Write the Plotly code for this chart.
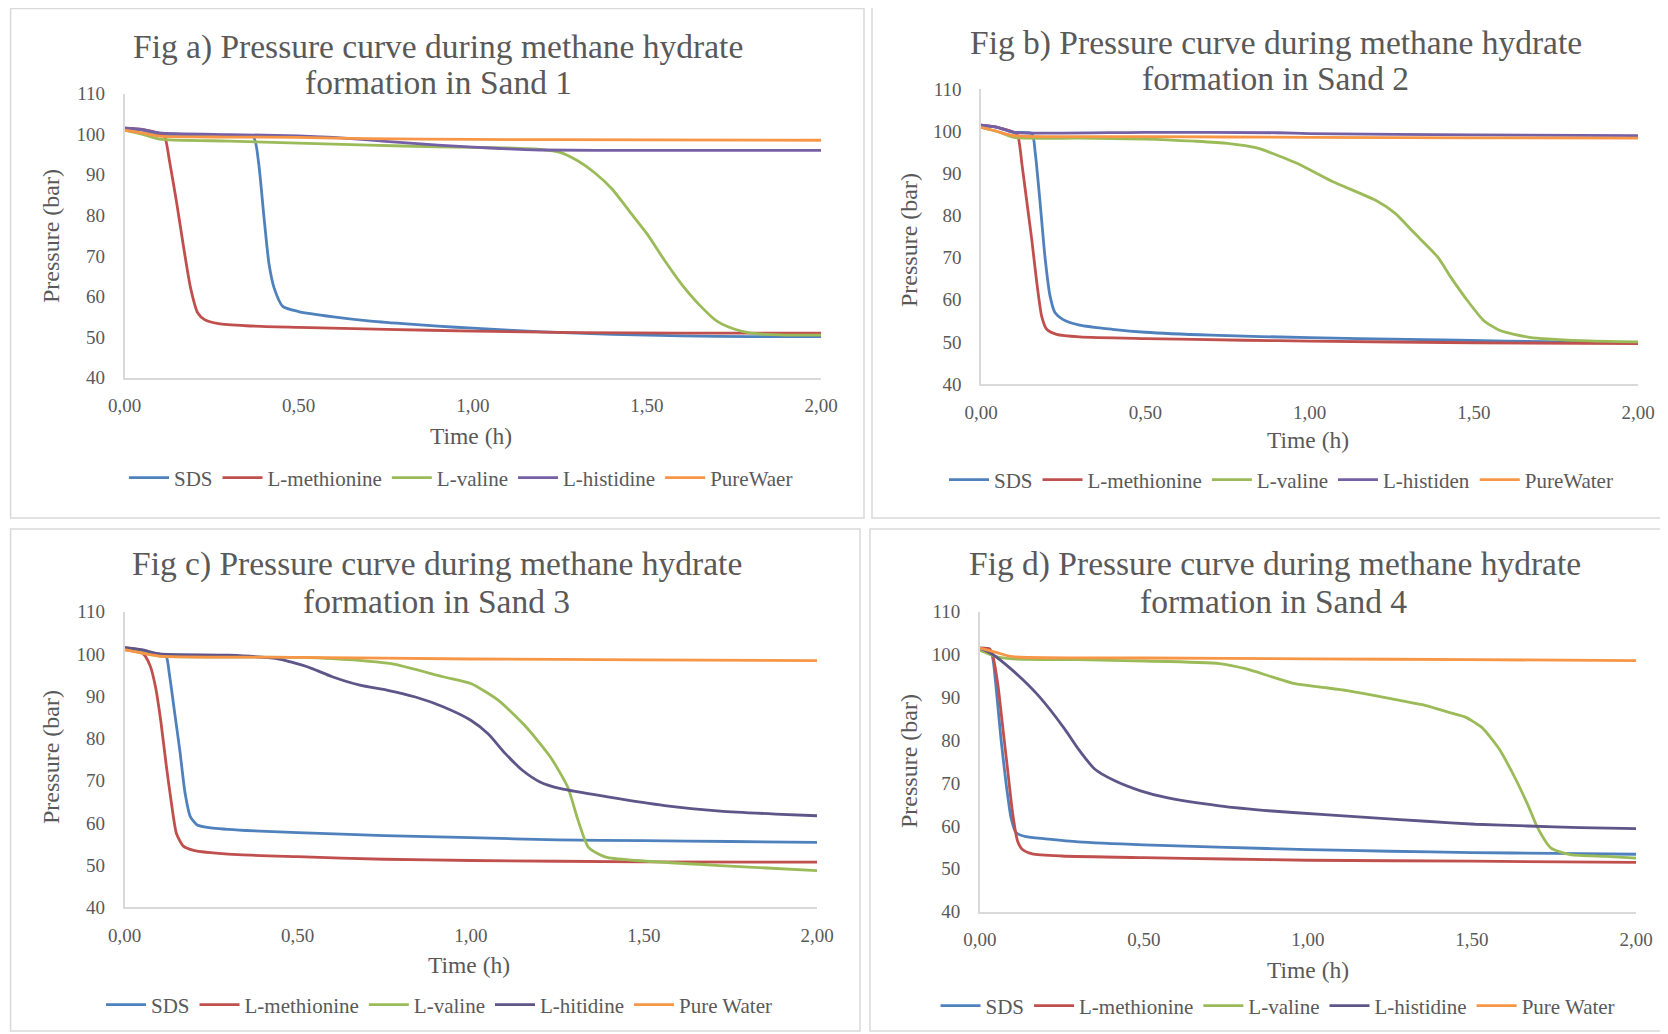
import plotly.graph_objects as go

# page has an 8 px body margin: the figure is drawn 8 px smaller and every
# reference pixel position is shifted by that margin
OFF = 8
W, H = 1668 - OFF, 1034 - OFF

# ---------------- data (time in h, pressure in bar) ----------------
# Panel a
a_sds_t = [0, 0.05, 0.10, 0.20, 0.30, 0.37, 0.385, 0.40, 0.415, 0.43, 0.455, 0.50, 0.60, 0.70, 0.80, 0.90, 1.00, 1.20, 1.40, 1.60, 1.80, 2.00]
a_sds_p = [101.5, 101.0, 100.0, 99.8, 99.6, 99.3, 93.0, 80.0, 68.0, 62.0, 57.5, 56.3, 55.0, 54.0, 53.3, 52.7, 52.2, 51.3, 50.7, 50.3, 50.1, 50.1]
a_met_t = [0, 0.05, 0.10, 0.115, 0.13, 0.15, 0.17, 0.19, 0.21, 0.23, 0.27, 0.35, 0.50, 0.75, 1.00, 1.30, 1.60, 2.00]
a_met_p = [101.5, 101.2, 100.2, 99.5, 93.0, 83.0, 72.0, 62.0, 56.0, 54.3, 53.3, 52.8, 52.4, 51.9, 51.5, 51.1, 51.0, 51.0]
a_val_t = [0, 0.05, 0.10, 0.30, 0.50, 0.70, 0.90, 1.10, 1.20, 1.25, 1.30, 1.35, 1.40, 1.45, 1.50, 1.55, 1.60, 1.65, 1.70, 1.75, 1.80, 1.90, 2.00]
a_val_p = [101.0, 100.0, 98.8, 98.3, 97.8, 97.3, 96.9, 96.6, 96.2, 95.5, 93.5, 90.5, 86.5, 81.0, 75.5, 69.0, 63.0, 58.0, 54.0, 52.0, 51.0, 50.5, 50.5]
a_his_t = [0, 0.05, 0.10, 0.30, 0.50, 0.60, 0.70, 0.80, 0.90, 1.00, 1.10, 1.20, 1.50, 2.00]
a_his_p = [101.5, 101.2, 100.3, 99.9, 99.6, 99.2, 98.6, 97.9, 97.3, 96.8, 96.4, 96.1, 96.0, 96.0]
a_wat_t = [0, 0.05, 0.10, 0.30, 0.50, 0.70, 1.00, 1.50, 2.00]
a_wat_p = [101.0, 100.3, 99.5, 99.3, 99.2, 98.9, 98.7, 98.6, 98.5]

# Panel b
b_sds_t = [0, 0.05, 0.10, 0.155, 0.165, 0.18, 0.195, 0.21, 0.225, 0.25, 0.30, 0.40, 0.50, 0.70, 1.00, 1.30, 1.60, 2.00]
b_sds_p = [101.5, 101.0, 99.8, 99.5, 95.0, 83.0, 70.0, 61.0, 57.0, 55.3, 54.0, 53.0, 52.3, 51.6, 51.0, 50.6, 50.2, 49.8]
b_met_t = [0, 0.05, 0.10, 0.112, 0.125, 0.14, 0.155, 0.17, 0.185, 0.20, 0.23, 0.30, 0.50, 0.80, 1.00, 1.50, 2.00]
b_met_p = [101.5, 101.0, 99.8, 99.0, 92.0, 83.0, 74.0, 64.0, 56.0, 53.0, 51.8, 51.2, 50.8, 50.4, 50.2, 49.8, 49.6]
b_val_t = [0, 0.05, 0.10, 0.30, 0.50, 0.65, 0.75, 0.84, 0.96, 1.07, 1.20, 1.26, 1.32, 1.39, 1.43, 1.48, 1.53, 1.58, 1.67, 1.83, 2.00]
b_val_p = [101.0, 100.0, 98.6, 98.4, 98.2, 97.7, 97.2, 96.1, 92.5, 88.1, 83.7, 80.6, 75.8, 70.2, 65.4, 59.9, 55.1, 52.7, 51.1, 50.3, 50.0]
b_his_t = [0, 0.05, 0.10, 0.50, 0.90, 1.00, 1.50, 2.00]
b_his_p = [101.5, 101.0, 99.8, 99.8, 99.7, 99.5, 99.2, 99.0]
b_wat_t = [0, 0.05, 0.10, 0.50, 1.00, 1.50, 2.00]
b_wat_p = [101.0, 100.0, 99.0, 98.8, 98.6, 98.5, 98.4]

# Panel c
c_sds_t = [0, 0.05, 0.10, 0.12, 0.13, 0.145, 0.16, 0.175, 0.19, 0.21, 0.25, 0.35, 0.50, 0.75, 1.00, 1.25, 1.50, 1.75, 2.00]
c_sds_p = [101.0, 100.5, 100.0, 99.5, 95.0, 86.0, 77.0, 67.0, 61.5, 59.5, 58.8, 58.2, 57.7, 57.0, 56.5, 56.0, 55.8, 55.6, 55.4]
c_met_t = [0, 0.04, 0.06, 0.075, 0.09, 0.105, 0.12, 0.135, 0.15, 0.17, 0.20, 0.30, 0.50, 0.75, 1.00, 1.50, 2.00]
c_met_p = [101.5, 101.0, 99.5, 97.0, 92.0, 84.0, 74.0, 65.0, 57.5, 54.5, 53.5, 52.6, 52.0, 51.4, 51.1, 50.8, 50.7]
c_val_t = [0, 0.05, 0.10, 0.50, 0.60, 0.77, 0.92, 1.00, 1.08, 1.16, 1.23, 1.28, 1.31, 1.34, 1.39, 1.48, 1.72, 2.00]
c_val_p = [101.0, 100.3, 99.5, 99.2, 98.9, 97.7, 94.6, 93.0, 89.0, 82.7, 75.6, 68.5, 60.6, 54.2, 51.9, 51.1, 49.9, 48.7]
c_his_t = [0, 0.05, 0.10, 0.30, 0.44, 0.48, 0.54, 0.60, 0.68, 0.76, 0.84, 0.92, 1.00, 1.05, 1.10, 1.15, 1.20, 1.26, 1.40, 1.56, 1.72, 1.88, 2.00]
c_his_p = [101.5, 101.0, 100.0, 99.7, 98.9, 98.1, 96.6, 94.6, 92.6, 91.4, 89.8, 87.5, 84.3, 81.1, 76.4, 72.4, 69.7, 68.1, 66.1, 64.1, 62.8, 62.1, 61.7]
c_wat_t = [0, 0.05, 0.10, 0.50, 1.00, 1.50, 2.00]
c_wat_p = [101.0, 100.2, 99.5, 99.2, 98.8, 98.6, 98.4]

# Panel d
d_sds_t = [0, 0.03, 0.04, 0.05, 0.065, 0.08, 0.095, 0.11, 0.14, 0.20, 0.30, 0.50, 0.75, 1.00, 1.25, 1.50, 1.75, 2.00]
d_sds_p = [101.5, 101.3, 99.0, 92.0, 80.0, 70.0, 62.0, 58.5, 57.5, 57.0, 56.3, 55.6, 55.0, 54.5, 54.1, 53.8, 53.6, 53.4]
d_met_t = [0, 0.03, 0.04, 0.055, 0.07, 0.085, 0.10, 0.115, 0.13, 0.16, 0.25, 0.50, 0.75, 1.00, 1.50, 2.00]
d_met_p = [101.5, 101.3, 99.5, 93.0, 83.0, 73.0, 63.0, 56.5, 54.5, 53.5, 53.0, 52.6, 52.3, 52.0, 51.8, 51.5]
d_val_t = [0, 0.05, 0.10, 0.30, 0.50, 0.73, 0.81, 0.89, 0.96, 1.04, 1.12, 1.20, 1.28, 1.36, 1.43, 1.48, 1.53, 1.58, 1.62, 1.67, 1.70, 1.74, 1.80, 1.91, 2.00]
d_val_p = [101.0, 99.5, 99.0, 98.8, 98.5, 97.9, 96.7, 94.8, 93.2, 92.4, 91.6, 90.5, 89.3, 88.1, 86.5, 85.4, 83.0, 78.3, 72.9, 65.0, 59.6, 54.9, 53.3, 52.9, 52.5]
d_his_t = [0, 0.036, 0.10, 0.18, 0.26, 0.30, 0.35, 0.41, 0.49, 0.57, 0.73, 0.89, 1.04, 1.20, 1.36, 1.51, 1.67, 1.83, 2.00]
d_his_p = [101.5, 100.2, 96.3, 90.3, 82.5, 78.0, 73.3, 70.6, 68.2, 66.6, 64.7, 63.5, 62.7, 61.9, 61.1, 60.4, 60.0, 59.6, 59.4]
d_wat_t = [0, 0.05, 0.10, 0.50, 1.00, 1.50, 2.00]
d_wat_p = [101.5, 100.5, 99.5, 99.2, 99.0, 98.8, 98.6]

# legend labels (as printed in each panel)
a_names = ["SDS", "L-methionine", "L-valine", "L-histidine", "PureWaer"]
b_names = ["SDS", "L-methionine", "L-valine", "L-histiden", "PureWater"]
c_names = ["SDS", "L-methionine", "L-valine", "L-hitidine", "Pure Water"]
d_names = ["SDS", "L-methionine", "L-valine", "L-histidine", "Pure Water"]

title_line1 = [
    "Fig a) Pressure curve during methane hydrate",
    "Fig b) Pressure curve during methane hydrate",
    "Fig c) Pressure curve during methane hydrate",
    "Fig d) Pressure curve during methane hydrate",
]
title_line2 = [
    "formation in Sand 1",
    "formation in Sand 2",
    "formation in Sand 3",
    "formation in Sand 4",
]
x_ticks = [0, 0.5, 1.0, 1.5, 2.0]
y_ticks = [40, 50, 60, 70, 80, 90, 100, 110]

# ---------------- styling / layout ----------------
FONT = "Liberation Serif"
TXT = "#595959"
his_col_ab = "#7560A6"
his_col_cd = "#5E5689"


def fx(px):
    return (px - OFF) / W


def fy(py):
    return 1 - (py - OFF) / H


panels = [
    dict(series=[(a_sds_t, a_sds_p), (a_met_t, a_met_p), (a_val_t, a_val_p), (a_his_t, a_his_p), (a_wat_t, a_wat_p)],
         names=a_names, his=his_col_ab,
         px=(124.5, 821), py=(93.6, 377.7), frame=(10.6, 8.5, 864, 518),
         t1=(438, 46.8), t2=(438, 82), xt=(471, 436), yt=(51, 236), leg=(461, 478)),
    dict(series=[(b_sds_t, b_sds_p), (b_met_t, b_met_p), (b_val_t, b_val_p), (b_his_t, b_his_p), (b_wat_t, b_wat_p)],
         names=b_names, his=his_col_ab,
         px=(981, 1638), py=(89.4, 384), frame=(872, 5, 1665, 518),
         t1=(1276, 42.6), t2=(1275.5, 78.7), xt=(1308, 440), yt=(909, 240), leg=(1281, 480)),
    dict(series=[(c_sds_t, c_sds_p), (c_met_t, c_met_p), (c_val_t, c_val_p), (c_his_t, c_his_p), (c_wat_t, c_wat_p)],
         names=c_names, his=his_col_cd,
         px=(124.5, 817), py=(611.7, 907.4), frame=(10.6, 529, 860, 1031),
         t1=(437, 564), t2=(437, 601), xt=(469, 965), yt=(51, 757), leg=(439, 1005)),
    dict(series=[(d_sds_t, d_sds_p), (d_met_t, d_met_p), (d_val_t, d_val_p), (d_his_t, d_his_p), (d_wat_t, d_wat_p)],
         names=d_names, his=his_col_cd,
         px=(979.8, 1636), py=(611.7, 911.7), frame=(870, 529, 1665, 1031),
         t1=(1275, 564), t2=(1273, 601), xt=(1308, 970), yt=(909, 761), leg=(1278, 1006)),
]

base_colors = ["#4F81BD", "#C0504D", "#9BBB59", None, "#F79646"]

fig = go.Figure()
shapes = []
annotations = []
layout_extra = {}


def ann(text, x, y, size, angle=0):
    return dict(text=text, x=fx(x), y=fy(y), xref="paper", yref="paper",
                xanchor="center", yanchor="middle", showarrow=False, textangle=angle,
                font=dict(family=FONT, size=size, color=TXT))


for i, p in enumerate(panels):
    k = "" if i == 0 else str(i + 1)
    xa, ya = "x" + k, "y" + k
    leg = "legend" + k
    cols = list(base_colors)
    cols[3] = p["his"]
    for (t, v), nm, col in zip(p["series"], p["names"], cols):
        fig.add_trace(go.Scatter(x=t, y=v, mode="lines", name=nm,
                                 line=dict(color=col, width=2.8, shape="spline", smoothing=0.6),
                                 xaxis=xa, yaxis=ya, legend=leg, showlegend=True))
    x0, x1 = p["px"]
    y0, y1 = p["py"]
    layout_extra["xaxis" + k] = dict(
        domain=[fx(x0), fx(x1)], anchor=ya, range=[0, 2], automargin=False,
        tickvals=x_ticks, tickformat=".2f", showgrid=False, zeroline=False,
        showline=True, linecolor="#D9D9D9", linewidth=1.5, ticks="",
        ticklabelstandoff=10, tickfont=dict(family=FONT, size=19, color=TXT))
    layout_extra["yaxis" + k] = dict(
        domain=[fy(y1), fy(y0)], anchor=xa, range=[40, 110], automargin=False,
        tickvals=y_ticks, showgrid=False, zeroline=False,
        showline=True, linecolor="#D9D9D9", linewidth=1.5, ticks="",
        ticklabelstandoff=14, tickfont=dict(family=FONT, size=19, color=TXT))
    lx, ly = p["leg"]
    layout_extra[leg] = dict(
        orientation="h", x=fx(lx), y=fy(ly), xanchor="center", yanchor="middle",
        xref="paper", yref="paper", bgcolor="rgba(0,0,0,0)",
        font=dict(family=FONT, size=21, color=TXT), itemwidth=40, tracegroupgap=0)
    fx0, fy0, fx1, fy1 = p["frame"]
    shapes.append(dict(type="rect", xref="paper", yref="paper",
                       x0=fx(fx0), x1=fx(fx1), y0=fy(fy1), y1=fy(fy0),
                       line=dict(color="#D9D9D9", width=1.5), fillcolor="rgba(0,0,0,0)", layer="below"))
    annotations.append(ann(title_line1[i], *p["t1"], 33.5))
    annotations.append(ann(title_line2[i], *p["t2"], 33.5))
    annotations.append(ann("Time (h)", *p["xt"], 23.5))
    annotations.append(ann("Pressure (bar)", *p["yt"], 24, -90))

fig.update_layout(
    template="none",
    width=W, height=H, margin=dict(l=0, r=0, t=0, b=0, pad=0, autoexpand=False),
    paper_bgcolor="white", plot_bgcolor="white", separators=", ",
    shapes=shapes, annotations=annotations, **layout_extra)

fig.write_html("out.html")
